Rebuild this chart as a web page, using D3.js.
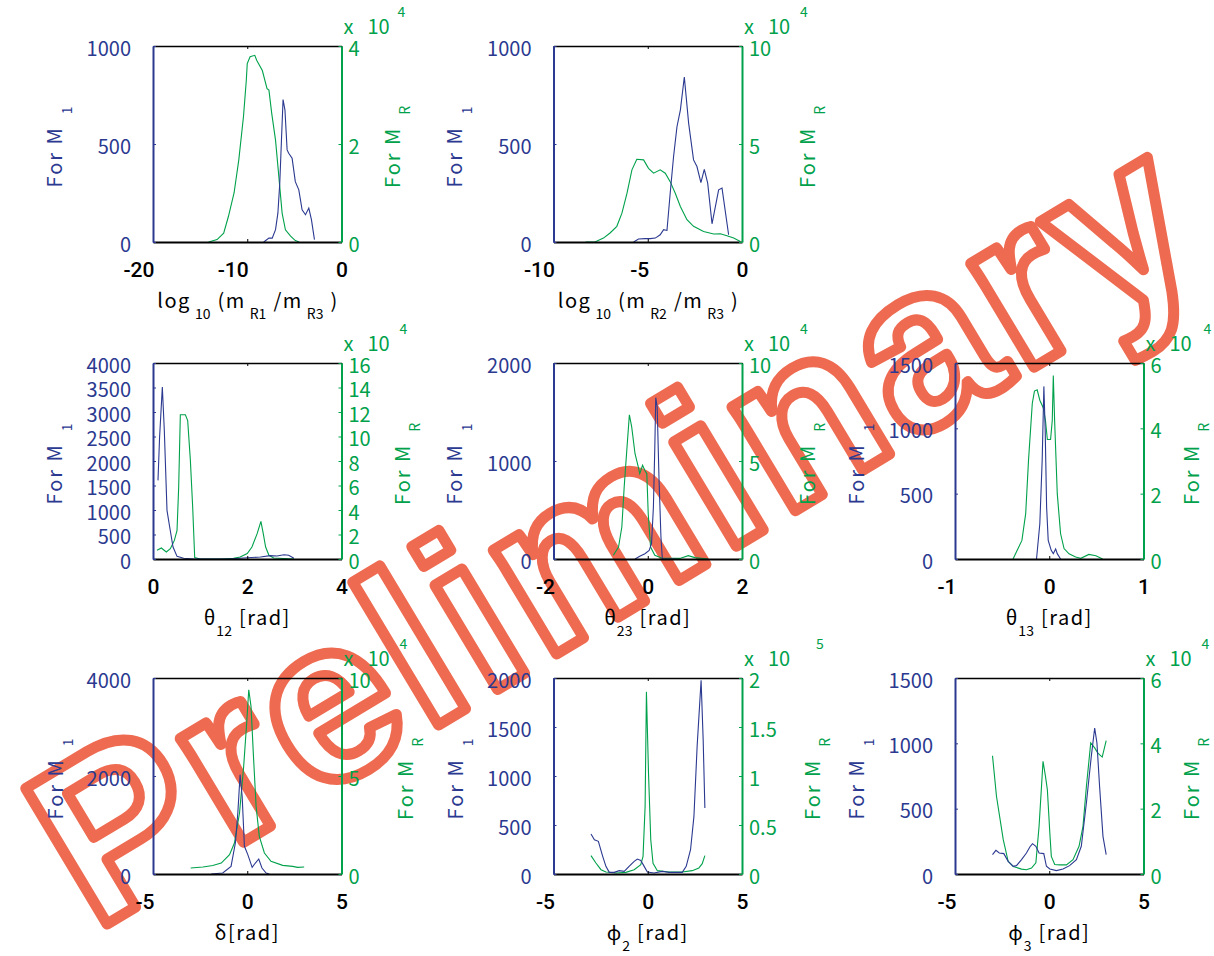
<!DOCTYPE html>
<html><head><meta charset="utf-8">
<script src="https://cdn.jsdelivr.net/npm/d3@7"></script>
<style>body{margin:0;background:#fff}svg{display:block}</style>
</head><body>
<svg id="c" width="1214" height="956"></svg>
<script>
// ---------------- DATA ----------------
// Series: [x, count]. Right-axis (M_R) counts are in units of 10^exp.
const lr13_M1 = [[-8.25,0],[-7.7,20],[-7.35,20],[-7.0,63],[-6.75,147],[-6.55,300],[-6.37,520],[-6.2,727],[-6.0,673],[-5.77,470],[-5.6,453],[-5.24,427],[-4.9,308],[-4.53,266],[-4.18,164],[-3.82,139],[-3.47,173],[-3.19,114],[-2.87,12]];
const lr13_MR = [[-14.1,0],[-13.2,0.05],[-12.5,0.18],[-12.0,0.52],[-11.4,1.0],[-10.9,1.67],[-10.4,2.56],[-10.1,3.3],[-10.0,3.64],[-9.7,3.78],[-9.2,3.81],[-9.0,3.71],[-8.4,3.5],[-7.9,3.13],[-7.7,3.1],[-7.4,2.62],[-7.0,2.08],[-6.65,1.34],[-6.3,0.59],[-5.95,0.25],[-5.4,0.12],[-4.9,0.03],[-4.5,0]];
const lr23_M1 = [[-5.75,0],[-5.49,15],[-5.13,17],[-4.87,17],[-4.6,20],[-4.34,37],[-4.16,63],[-3.98,59],[-3.81,249],[-3.63,436],[-3.45,588],[-3.27,673],[-3.06,842],[-2.83,605],[-2.57,419],[-2.39,385],[-2.18,303],[-2.0,371],[-1.82,300],[-1.59,93],[-1.24,266],[-1.06,275],[-0.71,37]];
const lr23_MR = [[-8.3,0],[-7.8,0],[-7.35,0.2],[-7.0,0.46],[-6.64,0.8],[-6.37,1.47],[-6.1,2.49],[-5.84,3.68],[-5.58,4.22],[-5.22,4.19],[-4.96,3.76],[-4.69,3.51],[-4.34,3.68],[-4.07,3.51],[-3.81,3.08],[-3.54,2.49],[-3.27,1.81],[-2.92,1.14],[-2.57,0.8],[-2.04,0.54],[-1.5,0.41],[-1.15,0.42],[-0.8,0.32],[-0.44,0.2],[-0.09,0.03]];
const th12_M1 = [[0.106,1605],[0.14,2490],[0.198,3510],[0.24,2626],[0.297,993],[0.354,653],[0.425,245],[0.51,54],[0.65,14],[0.86,0],[1.2,0],[1.6,0],[2.0,27],[2.28,41],[2.49,68],[2.63,61],[2.78,88],[2.88,75],[2.99,14]];
const th12_MR = [[0.085,0.71],[0.177,0.9],[0.283,0.57],[0.368,0.84],[0.453,1.52],[0.51,2.34],[0.545,5.88],[0.58,11.78],[0.687,11.78],[0.736,11.3],[0.793,8.05],[0.842,4.24],[0.885,0.11],[1.0,0],[1.43,0],[1.71,0.05],[1.85,0.16],[2.0,0.44],[2.1,0.98],[2.21,2.07],[2.29,3.07],[2.34,2.07],[2.39,0.98],[2.46,0.3],[2.56,0.08],[2.99,0]];
const th23_M1 = [[-0.27,0],[-0.17,27],[-0.06,54],[0.03,88],[0.08,156],[0.12,531],[0.15,1143],[0.17,1646],[0.2,1551],[0.24,803],[0.28,224],[0.31,0],[0.6,0]];
const th23_MR = [[-0.73,0.19],[-0.62,0.61],[-0.55,1.63],[-0.5,3.67],[-0.45,5.37],[-0.39,7.36],[-0.34,6.73],[-0.27,5.37],[-0.2,4.69],[-0.17,4.35],[-0.11,4.78],[-0.06,4.52],[-0.02,4.35],[0.01,2.31],[0.06,0.61],[0.15,0.19],[0.29,0.05],[0.68,0.03],[0.86,0.17],[1.0,0.07],[1.28,0]];
const th13_M1 = [[-0.135,0],[-0.1,270],[-0.075,755],[-0.057,1321],[-0.043,985],[-0.028,398],[-0.011,143],[0.021,66],[0.043,41],[0.068,77],[0.085,41],[0.12,0]];
const th13_MR = [[-0.384,0],[-0.34,0.27],[-0.29,0.57],[-0.25,1.39],[-0.22,3.02],[-0.18,4.76],[-0.157,5.14],[-0.128,5.18],[-0.1,4.86],[-0.064,4.63],[-0.04,4.24],[-0.02,3.66],[0.014,3.66],[0.032,4.24],[0.043,5.62],[0.057,4.24],[0.085,2.0],[0.12,0.78],[0.157,0.32],[0.21,0.16],[0.28,0.06],[0.335,0.02],[0.42,0.14],[0.495,0.1],[0.566,0]];
const dl_M1 = [[-1.91,0],[-1.3,20],[-0.86,156],[-0.63,633],[-0.5,1245],[-0.38,2027],[-0.27,1585],[-0.15,565],[0.03,395],[0.26,136],[0.43,224],[0.61,306],[0.78,122],[1.0,20],[1.17,0]];
const dl_MR = [[-3.0,0.31],[-2.35,0.36],[-1.83,0.43],[-1.38,0.56],[-0.94,0.99],[-0.68,1.58],[-0.41,3.11],[-0.19,5.49],[-0.03,7.7],[0.08,9.4],[0.2,8.55],[0.33,6.0],[0.47,3.45],[0.64,1.92],[0.91,1.07],[1.26,0.65],[1.88,0.44],[2.41,0.39],[2.67,0.34],[3.02,0.36]];
const ph2_M1 = [[-3.01,408],[-2.83,350],[-2.62,333],[-2.39,180],[-2.22,78],[-2.04,17],[-1.78,17],[-1.51,34],[-1.25,27],[-0.99,78],[-0.72,129],[-0.55,153],[-0.37,139],[-0.19,78],[-0.02,20],[0.33,10],[0.77,27],[1.13,17],[1.83,17],[2.04,78],[2.27,248],[2.45,588],[2.62,1303],[2.83,1976],[2.94,1371],[3.03,673]];
const ph2_MR = [[-3.01,0.187],[-2.75,0.112],[-2.48,0.044],[-2.22,0.02],[-1.69,0.01],[-1.16,0.017],[-0.72,0.044],[-0.37,0.095],[-0.25,0.18],[-0.14,0.69],[-0.07,1.86],[0.04,1.03],[0.16,0.35],[0.28,0.11],[0.51,0.034],[1.13,0.02],[1.83,0.02],[2.36,0.034],[2.71,0.061],[2.89,0.105],[3.03,0.187]];
const ph3_M1 = [[-3.01,148],[-2.83,181],[-2.65,161],[-2.41,156],[-2.18,97],[-1.91,59],[-1.74,64],[-1.47,110],[-1.21,161],[-1.03,207],[-0.89,232],[-0.71,212],[-0.54,161],[-0.29,156],[-0.15,59],[0.03,38],[0.38,26],[0.73,38],[1.08,64],[1.44,110],[1.7,212],[1.97,543],[2.23,900],[2.41,1117],[2.53,1003],[2.67,671],[2.85,288],[3.02,148]];
const ph3_MR = [[-3.01,3.62],[-2.8,2.38],[-2.44,1.05],[-2.18,0.39],[-1.91,0.23],[-1.47,0.15],[-1.21,0.13],[-0.94,0.18],[-0.71,0.34],[-0.54,1.46],[-0.33,3.45],[-0.2,2.99],[-0.1,2.58],[0.03,1.26],[0.11,0.54],[0.29,0.29],[0.56,0.28],[0.91,0.28],[1.26,0.44],[1.58,0.85],[1.79,1.46],[1.97,2.68],[2.2,4.01],[2.41,3.86],[2.58,3.7],[2.81,3.58],[3.02,4.08]];

// Tick values
const xt_lr13 = [-20,-10,0], xt_lr23 = [-10,-5,0], xt_th12 = [0,2,4], xt_th23 = [-2,0,2], xt_th13 = [-1,0,1], xt_ang = [-5,0,5];
const lt_1000 = [0,500,1000], lt_4000a = [0,500,1000,1500,2000,2500,3000,3500,4000], lt_2000a = [0,1000,2000], lt_1500 = [0,500,1000,1500], lt_4000b = [0,2000,4000], lt_2000b = [0,500,1000,1500,2000];
const rt_4 = [0,2,4], rt_10 = [0,5,10], rt_16 = [0,2,4,6,8,10,12,14,16], rt_6 = [0,2,4,6], rt_2 = [0,0.5,1,1.5,2];
const exps = ['4','4','4','4','4','4','5','4'];

// x-axis labels: [text, isSubscript]
const xl_lr13 = [['log',0],['10',1],['(m',0],['R1',1],['/m',0],['R3',1],[')',0]];
const xl_lr23 = [['log',0],['10',1],['(m',0],['R2',1],['/m',0],['R3',1],[')',0]];
const xl_th12 = [['θ',0],['12',1],['[rad]',0]];
const xl_th23 = [['θ',0],['23',1],['[rad]',0]];
const xl_th13 = [['θ',0],['13',1],['[rad]',0]];
const xl_dl = [['δ[rad]',0]];
const xl_ph2 = [['ϕ',0],['2',1],['[rad]',0]];
const xl_ph3 = [['ϕ',0],['3',1],['[rad]',0]];

// ---------------- LAYOUT ----------------
const BLUE = '#2b3990', GREEN = '#00a14b', WM = '#ee6a50';
const FONT = '"Noto Sans CJK JP","Noto Sans",sans-serif';
const W = 188.5, H = 196;
const colX = [153, 553.5, 955], rowY = [46, 363, 678];

const panels = [
  {c:0,r:0,xd:[-20,0],xt:xt_lr13,ld:[0,1000],lt:lt_1000,rd:[0,4],rt:rt_4,m1:lr13_M1,mr:lr13_MR,xl:xl_lr13,e:0,lx:62,rx:400,ex:56},
  {c:1,r:0,xd:[-10,0],xt:xt_lr23,ld:[0,1000],lt:lt_1000,rd:[0,10],rt:rt_10,m1:lr23_M1,mr:lr23_MR,xl:xl_lr23,e:1,lx:462,rx:815,ex:58},
  {c:0,r:1,xd:[0,4],xt:xt_th12,ld:[0,4000],lt:lt_4000a,rd:[0,16],rt:rt_16,m1:th12_M1,mr:th12_MR,xl:xl_th12,e:2,lx:62,rx:410,ex:58},
  {c:1,r:1,xd:[-2,2],xt:xt_th23,ld:[0,2000],lt:lt_2000a,rd:[0,10],rt:rt_10,m1:th23_M1,mr:th23_MR,xl:xl_th23,e:3,lx:462,rx:815,ex:58},
  {c:2,r:1,xd:[-1,1],xt:xt_th13,ld:[0,1500],lt:lt_1500,rd:[0,6],rt:rt_6,m1:th13_M1,mr:th13_MR,xl:xl_th13,e:4,lx:864,rx:1199,ex:60},
  {c:0,r:2,xd:[-5,5],xt:xt_ang,ld:[0,4000],lt:lt_4000b,rd:[0,10],rt:rt_10,m1:dl_M1,mr:dl_MR,xl:xl_dl,e:5,lx:63,rx:413,ex:58},
  {c:1,r:2,xd:[-5,5],xt:xt_ang,ld:[0,2000],lt:lt_2000b,rd:[0,2],rt:rt_2,m1:ph2_M1,mr:ph2_MR,xl:xl_ph2,e:6,lx:463,rx:820,ex:74},
  {c:2,r:2,xd:[-5,5],xt:xt_ang,ld:[0,1500],lt:lt_1500,rd:[0,6],rt:rt_6,m1:ph3_M1,mr:ph3_MR,xl:xl_ph3,e:7,lx:864,rx:1199,ex:58}
];

const svg = d3.select('#c');

// Watermark (behind everything)
svg.append('text')
  .attr('transform','translate(94,932) rotate(-31)')
  .attr('font-family','"Liberation Sans",Arial,sans-serif')
  .attr('font-weight','bold')
  .attr('font-size',230)
  .attr('letter-spacing',5)
  .attr('fill','none')
  .attr('stroke',WM)
  .attr('stroke-width',11)
  .attr('stroke-linejoin','round')
  .text('Preliminary');

function drawPanel(p){
  const x0 = colX[p.c], y0 = rowY[p.r];
  const g = svg.append('g');
  const x = d3.scaleLinear().domain(p.xd).range([x0, x0+W]);
  const yl = d3.scaleLinear().domain(p.ld).range([y0+H, y0]);
  const yr = d3.scaleLinear().domain(p.rd).range([y0+H, y0]);

  // series
  g.append('path').datum(p.mr)
    .attr('d', d3.line().x(d=>x(d[0])).y(d=>yr(d[1])))
    .attr('fill','none').attr('stroke',GREEN).attr('stroke-width',1.1);
  g.append('path').datum(p.m1)
    .attr('d', d3.line().x(d=>x(d[0])).y(d=>yl(d[1])))
    .attr('fill','none').attr('stroke',BLUE).attr('stroke-width',1.1);

  // top axis (ticks only)
  g.append('g').attr('transform',`translate(0,${y0})`)
    .call(d3.axisTop(x).tickValues(p.xt).tickSize(-3).tickSizeOuter(0).tickFormat(''))
    .call(a=>{a.select('.domain').attr('stroke','#000').attr('stroke-width',1.3);a.selectAll('line').attr('stroke','#000');});
  // bottom axis
  g.append('g').attr('transform',`translate(0,${y0+H})`)
    .call(d3.axisBottom(x).tickValues(p.xt).tickSize(-3).tickSizeOuter(0).tickPadding(20).tickFormat(d=>String(d)))
    .call(a=>{
      a.select('.domain').attr('stroke','#000').attr('stroke-width',2);
      a.selectAll('line').attr('stroke','#000');
      a.selectAll('text').attr('font-family','Roboto,"Liberation Sans",sans-serif').attr('font-size',21).attr('font-weight',500).attr('fill','#000')
        .attr('text-anchor',d=>d<0?'end':'middle').attr('dx',d=>d<0?'1':'0');
    });
  // left axis
  g.append('g').attr('transform',`translate(${x0},0)`)
    .call(d3.axisLeft(yl).tickValues(p.lt).tickSize(-3).tickSizeOuter(0).tickPadding(22).tickFormat(d=>String(d)))
    .call(a=>{
      a.select('.domain').attr('stroke',BLUE).attr('stroke-width',2);
      a.selectAll('line').attr('stroke',BLUE);
      a.selectAll('text').attr('font-family',FONT).attr('font-size',20).attr('fill',BLUE).attr('dy','0.45em');
    });
  // right axis
  g.append('g').attr('transform',`translate(${x0+W},0)`)
    .call(d3.axisRight(yr).tickValues(p.rt).tickSize(-3).tickSizeOuter(0).tickPadding(7).tickFormat(d=>String(d)))
    .call(a=>{
      a.select('.domain').attr('stroke',GREEN).attr('stroke-width',2);
      a.selectAll('line').attr('stroke',GREEN);
      a.selectAll('text').attr('font-family',FONT).attr('font-size',20).attr('fill',GREEN).attr('dy','0.45em');
    });

  // exponent "x 10^n"
  const ex = g.append('g').attr('fill',GREEN).attr('font-family',FONT);
  ex.append('text').attr('x',x0+W+2).attr('y',y0-12).attr('font-size',20).text('x');
  ex.append('text').attr('x',x0+W+26).attr('y',y0-12).attr('font-size',20).text('10');
  ex.append('text').attr('x',x0+W+p.ex).attr('y',y0-29).attr('font-size',14).text(exps[p.e]);

  // y labels
  const yLab = (xx, col, sub) => {
    const t = g.append('text').attr('transform',`translate(${xx},${y0+H/2+3}) rotate(-90)`)
      .attr('text-anchor','middle').attr('fill',col).attr('font-family',FONT).attr('font-size',20);
    t.append('tspan').attr('letter-spacing',2).text('For M');
    t.append('tspan').attr('dx',12).attr('dy',10).attr('font-size',14).text(sub);
  };
  yLab(p.lx, BLUE, '1');
  yLab(p.rx, GREEN, 'R');

  // x label
  const t = g.append('text').attr('x',x0+W/2).attr('y',y0+H+66).attr('text-anchor','middle')
    .attr('fill','#000').attr('font-family',FONT).attr('font-size',20);
  let prevSub = 0, prevLen = 0;
  p.xl.forEach(([s,sub],i)=>{
    const ts = t.append('tspan').text(s);
    if(sub){ ts.attr('font-size',14).attr('dy',11).attr('dx', prevLen>1?4:1); }
    else {
      ts.attr('dy', prevSub? -11:0).attr('dx', i?7:0);
      if(s.length>1) ts.attr('letter-spacing',1.5);
    }
    prevSub = sub; prevLen = s.length;
  });
}
panels.forEach(drawPanel);
</script>
</body></html>
